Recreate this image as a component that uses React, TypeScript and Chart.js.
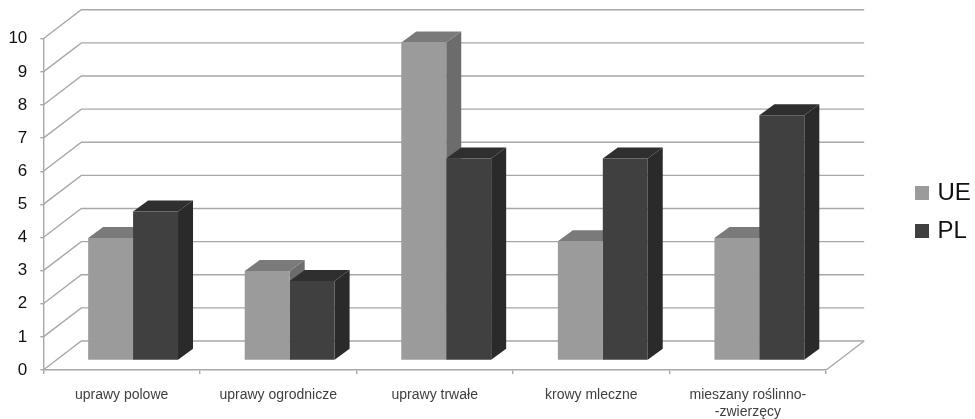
import { useEffect, useRef } from "react";
import { Chart, registerables } from "chart.js";

Chart.register(...registerables);

const categories = [
  "uprawy polowe",
  "uprawy ogrodnicze",
  "uprawy trwałe",
  "krowy mleczne",
  ["mieszany roślinno-", "-zwierzęcy"],
];
const seriesUE = [3.7, 2.7, 9.6, 3.6, 3.7];
const seriesPL = [4.5, 2.4, 6.1, 6.1, 7.4];
const yTicks = [0, 1, 2, 3, 4, 5, 6, 7, 8, 9, 10];

const FONT = '"Liberation Sans", Arial, sans-serif';
const AXIS_GREY = "#a8a8a8";

// Depth of the floor/back wall, of each bar box, and where bars stand on the floor.
const WALL = { dx: 38, dy: -29 };
const BOX = { dx: 15, dy: -11 };
const BAR_SHIFT = { dx: 11.5, dy: -9.5 };

const shades = [
  { front: "#9b9b9b", side: "#6c6c6c", top: "#7a7a7a" },
  { front: "#404040", side: "#2a2a2a", top: "#2f2f2f" },
];

function polygon(ctx: CanvasRenderingContext2D, pts: number[][], fill: string) {
  ctx.beginPath();
  pts.forEach(([x, y], i) => (i ? ctx.lineTo(x, y) : ctx.moveTo(x, y)));
  ctx.closePath();
  ctx.fillStyle = fill;
  ctx.fill();
}

function drawFaces(ctx: CanvasRenderingContext2D, meta: any, shade: { side: string; top: string }) {
  meta.data.forEach((bar: any) => {
    const l = bar.x - bar.width / 2;
    const r = bar.x + bar.width / 2;
    const { y, base } = bar;
    polygon(ctx, [[r, y], [r + BOX.dx, y + BOX.dy], [r + BOX.dx, base + BOX.dy], [r, base]], shade.side);
    polygon(ctx, [[l, y], [l + BOX.dx, y + BOX.dy], [r + BOX.dx, y + BOX.dy], [r, y]], shade.top);
  });
}

// Gridlines on the side and back walls, the floor outline, and the faces of the
// first series, which have to sit behind everything the second series paints.
const wallPlugin = {
  id: "wall",
  beforeDatasetsDraw(chart: any) {
    const { ctx, chartArea, scales } = chart;
    const { left, right, bottom } = chartArea;
    ctx.save();
    ctx.strokeStyle = AXIS_GREY;
    ctx.lineWidth = 1.4;
    yTicks.forEach((t) => {
      const y = scales.y.getPixelForValue(t);
      ctx.beginPath();
      ctx.moveTo(left, y);
      ctx.lineTo(left + WALL.dx, y + WALL.dy);
      ctx.lineTo(right + WALL.dx, y + WALL.dy);
      ctx.stroke();
    });
    ctx.beginPath();
    ctx.moveTo(right, bottom);
    ctx.lineTo(right + WALL.dx, bottom + WALL.dy);
    ctx.stroke();
    ctx.translate(BAR_SHIFT.dx, BAR_SHIFT.dy);
    drawFaces(ctx, chart.getDatasetMeta(0), shades[0]);
    ctx.restore();
  },
};

// Chart.js paints the last dataset first, so the second series gets its faces
// here, and every front face is shifted onto the floor.
const boxPlugin = {
  id: "box",
  beforeDatasetDraw(chart: any, args: any) {
    const { ctx } = chart;
    ctx.save();
    ctx.translate(BAR_SHIFT.dx, BAR_SHIFT.dy);
    if (args.index === 1) drawFaces(ctx, args.meta, shades[1]);
  },
  afterDatasetDraw(chart: any) {
    chart.ctx.restore();
  },
};

// Puts the legend in the free space right of the plot.
const legendPlugin = {
  id: "legendPlace",
  afterLayout(chart: any) {
    const l = chart.legend;
    const w = l.width;
    const h = l.height;
    l.left = 904.5;
    l.right = 904.5 + w;
    l.top = 212 - h / 2;
    l.bottom = 212 + h / 2;
  },
};

export default function App() {
  const ref = useRef<HTMLCanvasElement>(null);

  useEffect(() => {
    const chart = new Chart(ref.current!, {
      type: "bar",
      data: {
        labels: categories as any,
        datasets: [
          { label: "UE", data: seriesUE, backgroundColor: shades[0].front, clip: false as any },
          { label: "PL", data: seriesPL, backgroundColor: shades[1].front, clip: false as any },
        ],
      },
      options: {
        responsive: false,
        animation: false,
        categoryPercentage: 0.574,
        barPercentage: 1,
        layout: { padding: { top: 38.7, left: 0.3, right: 72.5, bottom: 0 } },
        plugins: {
          tooltip: { enabled: false },
          legend: {
            position: "right",
            labels: {
              usePointStyle: true,
              pointStyle: "rect",
              boxWidth: 7,
              boxHeight: 14,
              padding: 14,
              color: "#111111",
              font: { family: FONT, size: 24 },
            },
          },
        },
        scales: {
          x: {
            grid: {
              display: true,
              drawOnChartArea: false,
              drawTicks: true,
              tickLength: 4,
              color: AXIS_GREY,
              lineWidth: 1.4,
            },
            border: { display: true, color: AXIS_GREY, width: 1.4 },
            ticks: {
              color: "#404040",
              padding: 12,
              maxRotation: 0,
              autoSkip: false,
              font: { family: FONT, size: 14, lineHeight: 1.25 },
            },
            afterFit(s: any) {
              s.height = 49;
            },
          },
          y: {
            min: 0,
            max: 10,
            afterBuildTicks(s: any) {
              s.ticks = yTicks.map((value) => ({ value }));
            },
            grid: {
              drawOnChartArea: false,
              tickLength: 3,
              color: AXIS_GREY,
              lineWidth: 1.4,
            },
            border: { display: true, color: AXIS_GREY, width: 1.4 },
            ticks: {
              color: "#111111",
              padding: 13,
              font: { family: FONT, size: 17 },
            },
            afterFit(s: any) {
              s.width = 43;
            },
          },
        },
      },
      plugins: [wallPlugin, boxPlugin, legendPlugin],
    } as any);
    return () => chart.destroy();
  }, []);

  return (
    <div style={{ position: "fixed", left: 0, top: 0, background: "#fff" }}>
      <canvas ref={ref} width={975} height={419} style={{ display: "block" }} />
    </div>
  );
}
